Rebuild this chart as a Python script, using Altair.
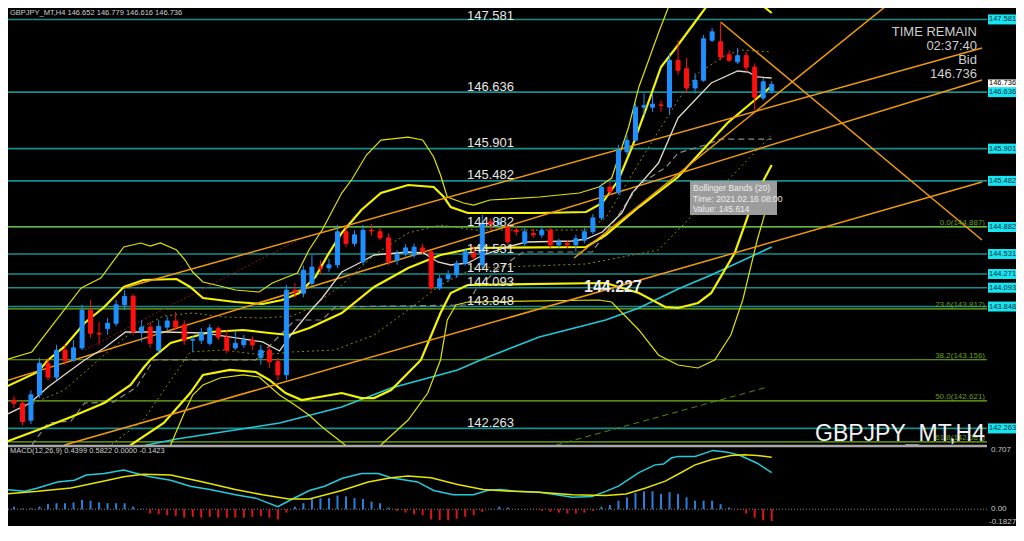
import altair as alt
import pandas as pd

# ---------------- candles (GBPJPY H4, oldest -> newest) ----------------
c_open = [142.46,142.63,142.59,142.37,142.70,143.11,142.93,143.28,143.15,143.31,
          143.80,143.50,143.56,143.63,143.87,143.98,143.52,143.58,143.28,143.58,
          143.66,143.61,143.41,143.41,143.37,143.56,143.45,143.31,143.35,143.41,
          143.18,143.28,143.13,142.96,144.06,144.02,144.15,144.36,144.35,144.39,
          144.82,144.67,144.43,144.84,144.82,144.74,144.45,144.54,144.52,144.61,
          144.56,144.09,144.21,144.26,144.41,144.56,144.39,144.95,144.92,144.88,
          144.84,144.67,144.80,144.78,144.84,144.65,144.67,144.65,144.71,144.82,
          145.00,145.40,145.33,145.86,146.01,146.44,146.44,146.47,146.44,147.05,
          146.94,146.69,146.79,147.31,147.29,147.12,147.03,147.11,146.96,146.56,
          146.652]
c_high = [142.70,142.68,142.63,142.76,143.18,143.18,143.35,143.35,143.41,143.87,
          143.93,143.65,143.70,143.93,144.06,144.01,143.67,143.65,143.67,143.72,
          143.78,143.67,143.46,143.57,143.62,143.59,143.54,143.53,143.48,143.46,
          143.35,143.33,143.18,144.13,144.15,144.38,144.52,144.45,144.47,144.91,
          144.90,144.84,144.91,144.92,144.87,144.80,144.58,144.66,144.67,144.66,
          144.58,144.26,144.32,144.45,144.61,144.64,145.04,145.00,145.00,144.92,
          144.90,144.87,144.86,144.90,144.88,144.73,144.71,144.78,144.87,145.05,
          145.45,145.47,145.95,146.08,146.49,146.62,146.62,146.53,147.14,147.31,
          147.08,146.88,147.38,147.47,147.55,147.18,147.21,147.16,147.01,146.82,
          146.779]
c_low = [142.40,142.53,142.30,142.32,142.66,142.89,142.89,143.09,143.13,143.28,
         143.44,143.35,143.48,143.59,143.80,143.48,143.39,143.31,143.24,143.54,
         143.54,143.35,143.26,143.36,143.34,143.41,143.24,143.28,143.31,143.28,
         143.09,143.05,142.89,142.89,143.96,143.97,144.11,144.26,144.30,144.35,
         144.62,144.63,144.39,144.77,144.71,144.39,144.39,144.50,144.48,144.53,
         144.06,144.06,144.17,144.22,144.38,144.45,144.35,144.84,144.87,144.65,
         144.77,144.63,144.74,144.74,144.61,144.61,144.61,144.56,144.67,144.79,
         144.97,145.30,145.30,145.82,145.99,146.34,146.38,146.38,146.34,146.86,
         146.62,146.62,146.77,147.29,147.05,147.03,147.00,146.90,146.40,146.53,
         146.616]
c_close = [142.63,142.59,142.35,142.70,143.11,142.93,143.28,143.15,143.31,143.80,
           143.50,143.49,143.63,143.87,143.98,143.52,143.58,143.37,143.59,143.66,
           143.58,143.41,143.42,143.50,143.57,143.45,143.28,143.37,143.41,143.35,
           143.28,143.13,142.96,144.06,144.04,144.32,144.36,144.34,144.39,144.82,
           144.67,144.78,144.84,144.83,144.74,144.43,144.52,144.61,144.62,144.56,
           144.09,144.21,144.26,144.41,144.56,144.49,144.93,144.91,144.95,144.69,
           144.82,144.82,144.78,144.84,144.65,144.69,144.65,144.73,144.82,145.00,
           145.40,145.34,145.88,146.01,146.44,146.46,146.48,146.46,147.05,146.92,
           146.69,146.79,147.33,147.42,147.09,147.05,147.11,146.96,146.57,146.77,
           146.736]

# ---------------- indicator lines (bar index, price) ----------------
bb3_up_i = [0,3.1,6.0,8.9,11.2,13.9,15.9,17.0,18.2,20.1,21.1,22.0,23.2,25.2,27.0,29.8,31.35,33.1,34.3,35.65,37.2,39.5,40.65,42.4,44.1,47.3,49.0,50.3,51.1,51.9,53.8,55.0,56.9,62.7,67.4,69.7,71.2,73.2,74.4,76.7,78.2,80.2,90]
bb3_up_p = [143.153,143.257,143.673,144.089,144.219,144.622,144.674,144.635,144.674,144.583,144.453,144.297,144.167,144.115,144.063,144.037,144.154,144.232,144.284,144.583,144.843,145.324,145.493,145.818,146.013,146.052,146.013,145.792,145.558,145.272,145.194,145.168,145.233,145.272,145.324,145.402,145.519,146.183,146.703,147.405,147.834,148.354,148.354]
bb2_up_i = [0,3.8,5.0,6.9,9.3,11.6,13.9,16.2,20.1,21.7,23.2,27.0,30.2,32.5,34.5,36.4,38.0,39.5,41.8,44.1,47.3,50.3,51.5,52.3,54.3,62.7,68.2,70.1,72.0,73.6,75.2,77.0,79.0,81.0,82.9,85.4,88.1,90]
bb2_up_p = [142.801,142.997,143.153,143.322,143.634,143.842,144.102,144.193,144.206,144.102,143.959,143.907,143.881,143.933,144.024,144.232,144.544,144.804,145.103,145.324,145.428,145.402,145.272,145.142,145.064,145.064,145.077,145.194,145.493,145.922,146.404,146.963,147.249,147.548,147.834,147.990,147.834,147.665]
bb_mid_i = [0,3.8,7.7,11.6,14.7,16.2,17.0,19.4,24.0,27.9,31.0,33.3,35.7,39.5,43.3,47.3,51.1,55.0,68.2,70.5,74.4,79.0,84.8,90]
bb_mid_p = [142.086,142.242,142.411,142.594,142.828,143.049,143.153,143.374,143.517,143.543,143.504,143.478,143.569,143.764,144.102,144.349,144.518,144.609,144.622,144.778,145.142,145.532,146.235,146.716]
bb2_lo_i = [13.9,14.7,18.6,21.7,23.2,26.35,29.4,31.0,32.9,34.8,39.5,41.8,43.3,45.3,48.8,51.1,52.3,54.3,70.5,74.4,77.5,79.0,81.35,82.9,85.65,88.0,90]
bb2_lo_p = [141.956,142.047,142.333,142.723,142.958,143.023,142.997,142.893,142.723,142.632,142.723,142.658,142.658,142.762,143.153,143.764,144.024,144.128,144.154,144.024,143.842,143.829,143.894,144.024,144.544,145.272,145.688]
bb3_lo_i = [17.4,19.4,20.9,22.0,23.2,25.2,27.9,29.8,32.2,34.0,35.65,37.2,38.7,40.65,43.0,44.1,47.3,49.6,51.1,51.9,52.9,54.3,69.7,71.2,74.4,76.7,79.0,81.35,83.3,85.2,86.6,88.3,90]
bb3_lo_p = [141.852,142.047,142.437,142.697,142.828,142.919,142.958,142.932,142.697,142.567,142.437,142.281,142.151,141.982,141.917,142.047,142.372,142.723,143.153,143.673,143.868,143.907,143.933,143.907,143.543,143.218,143.088,143.049,143.153,143.478,143.933,144.713,145.363]
bb1_up_i = [0,6.9,11.6,14.7,18.6,22.0,25.5,30.2,33.7,36.0,39.5,43.3,47.3,51.1,55.0,68.2,70.5,74.4,79.0,81.4,84.5,86.4,90]
bb1_up_p = [142.437,142.762,143.218,143.504,143.725,143.764,143.712,143.699,143.725,143.842,144.128,144.518,144.804,144.908,144.843,144.843,144.999,145.714,146.534,146.885,147.110,147.184,147.158]
bb1_lo_i = [0,11.6,16.2,21.7,25.5,30.2,33.7,38.7,43.3,47.3,51.1,55.0,68.2,76.7,80.5,84.5,88.3,90]
bb1_lo_p = [141.722,141.982,142.372,143.257,143.283,143.218,143.257,143.283,143.478,143.803,144.128,144.349,144.401,144.583,145.012,145.454,145.883,146.079]
ma_fast_i = [0,2.9,5.0,6.9,9.3,11.6,14.1,18.6,23.2,25.5,27.9,30.2,32.2,33.7,35.7,37.2,39.5,41.8,43.3,47.3,49.1,50.8,52.3,54.3,56.1,58.9,61.2,66.6,68.2,70.1,72.4,73.6,76.7,79.0,82.9,86.0,87.2,88.3,90]
ma_fast_p = [142.437,142.593,142.801,142.958,143.153,143.309,143.517,143.517,143.504,143.465,143.426,143.387,143.270,143.504,143.777,143.959,144.297,144.427,144.518,144.557,144.544,144.427,144.388,144.414,144.518,144.622,144.687,144.700,144.726,144.817,145.064,145.324,145.714,146.300,146.755,146.911,146.898,146.833,146.820]
ma_slow_i = [11.6,16.6,20.1,24.7,32.2,39.5,45.3,53.1,55.8,62.7,70.5,74.4,79.0,82.9,90]
ma_slow_p = [141.880,142.047,142.125,142.203,142.333,142.541,142.788,143.022,143.153,143.452,143.673,143.829,144.076,144.258,144.622]
kijun_i = [3.1,5.0,7.7,9.3,12.7,15.4,17.4,23.2,29.4,32.5,34.0,37.2,38.7,54.3,55.2,57.75,60.8,68.9,72.0,74.4,77.6,79.0,82.2,84.0,90]
kijun_p = [142.047,142.333,142.359,142.593,142.606,142.801,143.153,143.153,143.153,143.504,143.673,143.673,143.842,143.868,144.063,144.323,144.557,144.557,145.038,145.428,145.662,145.844,145.948,146.026,146.026]

# trend lines: (start index, start price, end index, end price)
trend_names = ["A", "B", "C", "D", "E"]
trend_i0 = [13.9, 0.0, 6.93, 66.8, 84.0]
trend_p0 = [144.089, 142.880, 142.047, 144.479, 147.548]
trend_i1 = [114.7, 114.7, 114.7, 104.3, 114.7]
trend_p1 = [147.210, 146.794, 145.467, 147.834, 144.713]
red_dot_i = [9.3, 34.8]
red_dot_p = [143.283, 144.739]
green_dash_i = [64.7, 89.5]
green_dash_p = [142.047, 142.801]

# horizontal levels
h_levels = [147.581, 146.636, 145.901, 145.482, 144.882, 144.531, 144.271, 144.093, 143.848, 142.263]
h_labels = ["147.581", "146.636", "145.901", "145.482", "144.882", "144.531", "144.271", "144.093", "143.848", "142.263"]
fib_levels = [144.887, 143.817, 143.156, 142.621, 142.087]
fib_labels = ["0.0(144.887)", "23.6(143.817)", "38.2(143.156)", "50.0(142.621)", "61.8(142.087)"]
price_ticks = [147.665, 147.325, 146.980, 146.635, 146.295, 145.950, 145.610, 145.265,
               144.925, 144.580, 144.235, 143.895, 143.550, 143.210, 142.865, 142.520, 142.180]
bid_price = 146.736
countdown_p = [147.418, 147.236, 147.054, 146.872]
countdown_t = ["TIME REMAIN", "02:37:40", "Bid", "146.736"]

# ---------------- MACD ----------------
macd_hist = [0.051,0.031,0.010,0.010,0.031,0.061,0.072,0.072,0.082,0.113,
             0.102,0.082,0.072,0.072,0.072,0.031,0.005,-0.051,-0.061,-0.072,
             -0.082,-0.102,-0.092,-0.102,-0.092,-0.102,-0.102,-0.102,-0.102,-0.092,
             -0.082,-0.102,-0.123,-0.041,0.031,0.072,0.123,0.133,0.133,0.164,
             0.154,0.133,0.123,0.092,0.072,0.020,-0.020,-0.041,-0.061,-0.072,
             -0.123,-0.133,-0.133,-0.113,-0.092,-0.072,-0.031,0.005,0.031,0.020,
             0.002,0.003,-0.003,-0.020,-0.031,-0.041,-0.051,-0.051,-0.041,-0.020,
             0.031,0.051,0.102,0.143,0.195,0.215,0.215,0.184,0.205,0.184,
             0.143,0.102,0.102,0.102,0.061,0.020,-0.010,-0.051,-0.102,-0.133,
             -0.142]
macd_main_i = [0,2.3,3.8,6.1,8.1,9.5,11.6,13.9,15.4,17.0,19.4,21.7,24.0,27.0,29.4,32.0,33.7,35.7,37.5,39.5,41.8,43.8,45.3,48.4,50.3,52.6,54.95,56.6,58.1,60.1,62.7,64.7,66.6,68.9,70.5,72.0,74.4,76.3,77.3,78.2,79.0,81.0,83.1,84.8,86.3,88.3,90]
macd_main_v = [0.236,0.215,0.256,0.328,0.348,0.410,0.430,0.471,0.430,0.389,0.348,0.277,0.236,0.174,0.133,0.031,0.123,0.225,0.277,0.369,0.430,0.430,0.379,0.328,0.225,0.174,0.174,0.225,0.236,0.215,0.205,0.174,0.143,0.154,0.215,0.277,0.440,0.533,0.543,0.615,0.635,0.635,0.707,0.686,0.645,0.553,0.440]
macd_sig_i = [0,3.8,7.7,11.6,13.9,16.2,19.4,23.2,27.0,30.2,33.3,35.7,39.5,42.6,45.3,47.3,50.0,53.1,56.1,59.6,62.7,66.6,70.5,72.9,75.2,77.5,79.0,81.0,82.9,85.2,86.8,88.3,90]
macd_sig_v = [0.184,0.215,0.256,0.338,0.389,0.420,0.410,0.328,0.236,0.174,0.123,0.123,0.225,0.328,0.379,0.400,0.379,0.297,0.236,0.215,0.205,0.174,0.164,0.184,0.256,0.338,0.420,0.533,0.594,0.645,0.656,0.645,0.625]
macd_ticks = [0.707, 0.0, -0.1827]
macd_tick_labels = ["0.707", "0.00", "-0.1827"]

# ---------------- styling ----------------
W, H = 987, 538
P_LO, P_HI = 140.838, 147.834
M_LO, M_HI = -0.346, 6.121
BLUE = "#1e90ff"
RED = "#ff1010"
YEL = "#f4f400"
YEL_THIN = "#e2e200"
ORANGE = "#f09a0e"
TEAL = "#178e8e"
FIB = "#74b41c"
GRAY = "#9a9a9a"
SANS = "Liberation Sans, Arial"

xsc = alt.Scale(domain=[-0.05, 114.7], nice=False, zero=False)
psc = alt.Scale(domain=[P_LO, P_HI], nice=False, zero=False)
msc = alt.Scale(domain=[M_LO, M_HI], nice=False, zero=False)


def X(f="i"):
    return alt.X(f"{f}:Q", scale=xsc, axis=None)


def PY(f="p"):
    return alt.Y(f"{f}:Q", scale=psc, axis=None)


def MY(f="v"):
    return alt.Y(f"{f}:Q", scale=msc, axis=None)


def pline(ii, pp, color, width, dash=None):
    kw = dict(color=color, strokeWidth=width, clip=True)
    if dash:
        kw["strokeDash"] = dash
    return alt.Chart(pd.DataFrame({"i": ii, "p": pp})).mark_line(**kw).encode(x=X(), y=PY())


def mline(ii, vv, color, width):
    return alt.Chart(pd.DataFrame({"i": ii, "v": vv})).mark_line(
        color=color, strokeWidth=width, clip=True).encode(x=X(), y=MY())


candles = pd.DataFrame({"i": list(range(len(c_open))), "o": c_open, "h": c_high,
                        "l": c_low, "c": c_close})
up_cond = alt.condition("datum.c >= datum.o", alt.value(BLUE), alt.value(RED))

x_axis = alt.Axis(values=list(range(6, 91, 6)), labels=False, ticks=True, tickSize=3,
                  tickColor=GRAY, domainColor=GRAY, domainWidth=1.5, grid=False,
                  title=None, zindex=1)
y_axis = alt.Axis(orient="right", values=price_ticks, format=".3f", labelFont=SANS,
                  labelFontSize=8, labelColor="#c8c8c8", tickColor=GRAY, tickSize=2,
                  labelPadding=1, domainColor=GRAY, domainWidth=1, grid=False,
                  title=None, labelOverlap=False)

hdf = pd.DataFrame({"p": h_levels, "label": h_labels})
fdf = pd.DataFrame({"p": fib_levels, "label": fib_labels})
bdf = pd.DataFrame({"p": [bid_price], "t": ["146.736"]})

tr_rows = []
for n, a, b, c, d in zip(trend_names, trend_i0, trend_p0, trend_i1, trend_p1):
    tr_rows.append({"g": n, "i": a, "p": b})
    tr_rows.append({"g": n, "i": c, "p": d})
trdf = pd.DataFrame(tr_rows)

main_layers = [
    # horizontal support / resistance lines
    alt.Chart(hdf).mark_rule(color=TEAL, strokeWidth=1.6).encode(y=PY()),
    alt.Chart(fdf).mark_rule(color=FIB, strokeWidth=1.2).encode(y=PY()),
    # Bollinger bands and averages
    pline(bb1_up_i, bb1_up_p, "#8c8c00", 1, [2, 3]),
    pline(bb1_lo_i, bb1_lo_p, "#8c8c00", 1, [2, 3]),
    pline(kijun_i, kijun_p, "#8a8a8a", 1.2, [6, 4]),
    pline(red_dot_i, red_dot_p, "#8b1a1a", 1, [2, 2]),
    pline(green_dash_i, green_dash_p, "#4f8a10", 1, [6, 4]),
    pline(ma_slow_i, ma_slow_p, "#22c8d8", 1.6),
    pline(bb3_up_i, bb3_up_p, YEL_THIN, 1.2),
    pline(bb3_lo_i, bb3_lo_p, YEL_THIN, 1.2),
    pline(bb2_up_i, bb2_up_p, YEL, 2.2),
    pline(bb2_lo_i, bb2_lo_p, YEL, 2.2),
    pline(bb_mid_i, bb_mid_p, YEL, 2.2),
    alt.Chart(trdf).mark_line(color=ORANGE, strokeWidth=1.5, clip=True).encode(
        x=X(), y=PY(), detail="g:N"),
    pline(ma_fast_i, ma_fast_p, "#e2d8c8", 1.3),
    # candles
    alt.Chart(candles).mark_rule(strokeWidth=1).encode(
        x=alt.X("i:Q", scale=xsc, axis=x_axis),
        y=alt.Y("l:Q", scale=psc, axis=y_axis), y2="h:Q", color=up_cond),
    alt.Chart(candles).mark_bar(size=4, strokeWidth=1).encode(
        x=X(), y=PY("o"), y2="c:Q", color=up_cond, stroke=up_cond),
    # level captions (the topmost one sits a little lower so it stays on the page)
    alt.Chart(hdf.iloc[1:]).mark_text(align="left", baseline="alphabetic", dy=-1.5,
                                      font=SANS, fontSize=13, color="#e6e6e6").encode(
        x=alt.value(467), y=PY(), text="label:N"),
    alt.Chart(hdf.iloc[:1]).mark_text(align="left", baseline="alphabetic", dy=0.5,
                                      font=SANS, fontSize=13, color="#e6e6e6").encode(
        x=alt.value(467), y=PY(), text="label:N"),
    alt.Chart(fdf).mark_text(align="right", baseline="alphabetic", dy=-2, font=SANS,
                             fontSize=8, color="#6a9f19").encode(
        x=alt.value(985), y=PY(), text="label:N"),
    alt.Chart(pd.DataFrame({"p": [144.102], "t": ["144.227"]})).mark_text(
        align="left", baseline="middle", font=SANS, fontSize=16, fontWeight="bold",
        color="#ececec").encode(x=alt.value(584), y=PY(), text="t:N"),
    # countdown block
    alt.Chart(pd.DataFrame({"p": countdown_p, "t": countdown_t})).mark_text(
        align="right", baseline="middle", font=SANS, fontSize=13,
        color="#cfcfcf").encode(x=alt.value(977), y=PY(), text="t:N"),
    # symbol watermark
    alt.Chart(pd.DataFrame({"p": [142.099], "t": ["GBPJPY_MT,H4"]})).mark_text(
        align="right", baseline="alphabetic", font=SANS, fontSize=23,
        color="#f2f2f2").encode(x=alt.value(985), y=PY(), text="t:N"),
    # data window tooltip
    alt.Chart(pd.DataFrame({"p": [145.480], "p2": [145.038]})).mark_rect(
        color="#9c9c9c").encode(x=alt.value(690), x2=alt.value(777), y=PY(), y2="p2:Q"),
    alt.Chart(pd.DataFrame({"p": [145.389, 145.252, 145.121],
                            "t": ["Bollinger Bands (20)", "Time: 2021.02.16 08:00",
                                  "Value: 145.614"]})).mark_text(
        align="left", baseline="middle", font=SANS, fontSize=8.5,
        color="#ededed").encode(x=alt.value(693), y=PY(), text="t:N"),
    # header
    alt.Chart(pd.DataFrame({"p": [147.665],
                            "t": ["GBPJPY_MT,H4  146.652 146.779 146.616 146.736"]})).mark_text(
        align="left", baseline="middle", font=SANS, fontSize=7.5,
        color="#d0d0d0").encode(x=alt.value(10), y=PY(), text="t:N"),
    # price tags on the scale (bid tag first, level tags on top)
    alt.Chart(bdf).mark_rule(strokeWidth=10, color="#ffffff", strokeCap="butt").encode(
        x=alt.value(988), x2=alt.value(1018), y=PY()),
    alt.Chart(bdf).mark_text(align="left", baseline="middle", font=SANS, fontSize=7.5,
                             dy=-1, color="#000000").encode(x=alt.value(989), y=PY(), text="t:N"),
    alt.Chart(hdf).mark_rule(strokeWidth=10, color="#17e6f2", strokeCap="butt").encode(
        x=alt.value(988), x2=alt.value(1018), y=PY()),
    alt.Chart(hdf).mark_text(align="left", baseline="middle", font=SANS, fontSize=7.5,
                             color="#0b2636").encode(x=alt.value(989), y=PY(), text="label:N"),
]

sep_y = 445
hist_df = pd.DataFrame({"i": list(range(len(macd_hist))), "v": macd_hist})
hist_cond = alt.condition("datum.v >= 0", alt.value("#2a80d8"), alt.value("#e01414"))
mt_df = pd.DataFrame({"v": macd_ticks, "t": macd_tick_labels})

macd_layers = [
    # panel background covering the price panel overflow
    alt.Chart(pd.DataFrame({"a": [0]})).mark_rect(color="#000000").encode(
        x=alt.value(0), x2=alt.value(986), y=alt.value(sep_y), y2=alt.value(H - 1)),
    alt.Chart(pd.DataFrame({"a": [0]})).mark_rule(color="#a8a8a8", strokeWidth=2.5).encode(
        x=alt.value(0), x2=alt.value(987), y=alt.value(sep_y + 1)),
    alt.Chart(pd.DataFrame({"v": [0.0]})).mark_rule(color="#8a8a8a", strokeDash=[1, 2],
                                                  strokeWidth=1).encode(y=MY()),
    alt.Chart(hist_df).mark_bar(size=2).encode(x=X(), y=MY(), y2=alt.datum(0),
                                               color=hist_cond),
    mline(macd_main_i, macd_main_v, "#22ccdc", 1.5),
    mline(macd_sig_i, macd_sig_v, "#e6e600", 1.5),
    alt.Chart(pd.DataFrame({"v": [0.697],
                            "t": ["MACD(12,26,9) 0.4399 0.5822 0.0000 -0.1423"]})).mark_text(
        align="left", baseline="middle", font=SANS, fontSize=7.5,
        color="#d0d0d0").encode(x=alt.value(10), y=MY(), text="t:N"),
    alt.Chart(mt_df.iloc[:2]).mark_text(align="left", baseline="middle", font=SANS,
                                        fontSize=8, color="#c8c8c8").encode(
        x=alt.value(991), y=MY(), text="t:N"),
    alt.Chart(mt_df.iloc[2:]).mark_text(align="left", baseline="alphabetic", font=SANS,
                                        fontSize=8, color="#c8c8c8").encode(
        x=alt.value(989), y=MY(), text="t:N"),
]

chart = alt.layer(alt.layer(*main_layers), alt.layer(*macd_layers)).resolve_scale(
    y="independent"
).properties(
    width=W, height=H,
    autosize=alt.AutoSizeParams(type="none"),
    padding={"left": -8, "top": -8, "right": 29, "bottom": -12},
).configure(background="#000000").configure_view(stroke=None, fill="#000000")

chart.save("out.html", embed_options={"renderer": "svg", "actions": False})
